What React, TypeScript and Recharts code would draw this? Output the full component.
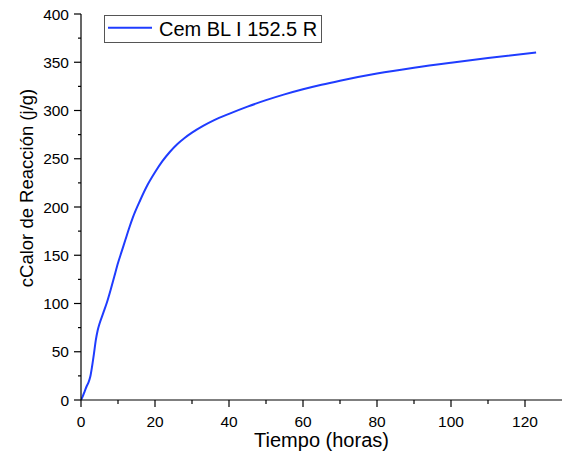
import React from "react";
import { LineChart, Line, XAxis, YAxis, Label } from "recharts";

// tiempo (horas) vs calor de reacción (j/g)
const hours = [
  0, 0.5, 1, 1.5, 2, 2.5, 3, 3.5, 4, 4.5, 5, 6, 7, 8, 9, 10, 11, 12, 13, 14,
  16, 18, 20, 22, 24, 26, 28, 30, 33, 36, 40, 45, 50, 55, 60, 65, 70, 80, 90,
  100, 110, 123,
];
const heat = [
  0, 4, 9, 14, 18, 24, 35, 48, 62, 72, 79, 90, 101, 114, 128, 142, 154, 166,
  178, 189, 207, 223, 236, 247.5, 257, 265, 271.5, 277, 284, 290, 296.5, 304,
  310.7, 316.7, 322, 326.7, 330.9, 338.3, 344.3, 349.5, 354.3, 360,
];
const xTicks = [0, 10, 20, 30, 40, 50, 60, 70, 80, 90, 100, 110, 120];
const yTicks = [
  0, 25, 50, 75, 100, 125, 150, 175, 200, 225, 250, 275, 300, 325, 350, 375,
  400,
];
const seriesName = "Cem BL I 152.5 R";

const data = hours.map((t, i) => ({ t, q: heat[i] }));

const FONT = '"Liberation Sans", Arial, sans-serif';
const BLUE = "#1f3cff";

const XTick = (props: any) => {
  const { x, y, payload } = props;
  const major = payload.value % 20 === 0;
  return (
    <g>
      <line x1={x} x2={x} y1={y} y2={y + (major ? 7 : 4)} stroke="#000" strokeWidth={1.2} />
      {major && (
        <text x={x} y={y + 27} textAnchor="middle" fontSize={15.5} fontFamily={FONT} fill="#000">
          {payload.value}
        </text>
      )}
    </g>
  );
};

const YTick = (props: any) => {
  const { x, y, payload } = props;
  const major = payload.value % 50 === 0;
  return (
    <g>
      <line x1={x} x2={x - (major ? 7 : 3)} y1={y} y2={y} stroke="#000" strokeWidth={1.2} />
      {major && (
        <text x={x - 12} y={y + 5.5} textAnchor="end" fontSize={15.5} fontFamily={FONT} fill="#000">
          {payload.value}
        </text>
      )}
    </g>
  );
};

const App = () => {
  return (
    <div style={{ position: "absolute", left: 0, top: 0, width: 564, height: 454, background: "#fff" }}>
      <LineChart
        width={564}
        height={454}
        data={data}
        margin={{ top: 14, right: 2, left: 0, bottom: 0 }}
      >
        <XAxis
          dataKey="t"
          type="number"
          domain={[0, 130]}
          ticks={xTicks}
          interval={0}
          height={54}
          tickSize={0}
          tickMargin={0}
          tick={<XTick />}
          axisLine={{ stroke: "#000", strokeWidth: 1.2 }}
          allowDataOverflow
        >
          <Label
            value="Tiempo (horas)"
            position="insideBottom"
            offset={7}
            style={{ fontSize: 20, fontFamily: FONT, fill: "#000" }}
          />
        </XAxis>
        <YAxis
          type="number"
          domain={[0, 400]}
          ticks={yTicks}
          interval={0}
          width={81}
          tickSize={0}
          tickMargin={0}
          tick={<YTick />}
          axisLine={{ stroke: "#000", strokeWidth: 1.2 }}
          allowDataOverflow
        >
          <Label
            content={() => (
              <text
                transform="translate(33,188) rotate(-90)"
                textAnchor="middle"
                fontSize={18.5}
                fontFamily={FONT}
                fill="#000"
              >
                cCalor de Reacción (j/g)
              </text>
            )}
          />
        </YAxis>
        <Line
          type="monotone"
          dataKey="q"
          name={seriesName}
          stroke={BLUE}
          strokeWidth={2}
          dot={false}
          isAnimationActive={false}
        />
      </LineChart>
      <svg
        width={219}
        height={29}
        style={{ position: "absolute", left: 104, top: 15, overflow: "visible" }}
      >
        <rect x={0.5} y={0.5} width={217} height={27} fill="#fff" stroke="#555" strokeWidth={1} />
        <line x1={4} x2={48} y1={12.7} y2={12.7} stroke={BLUE} strokeWidth={2} />
        <text x={55} y={21} fontSize={20} fontFamily={FONT} fill="#000">
          {seriesName}
        </text>
      </svg>
    </div>
  );
};

export default App;
